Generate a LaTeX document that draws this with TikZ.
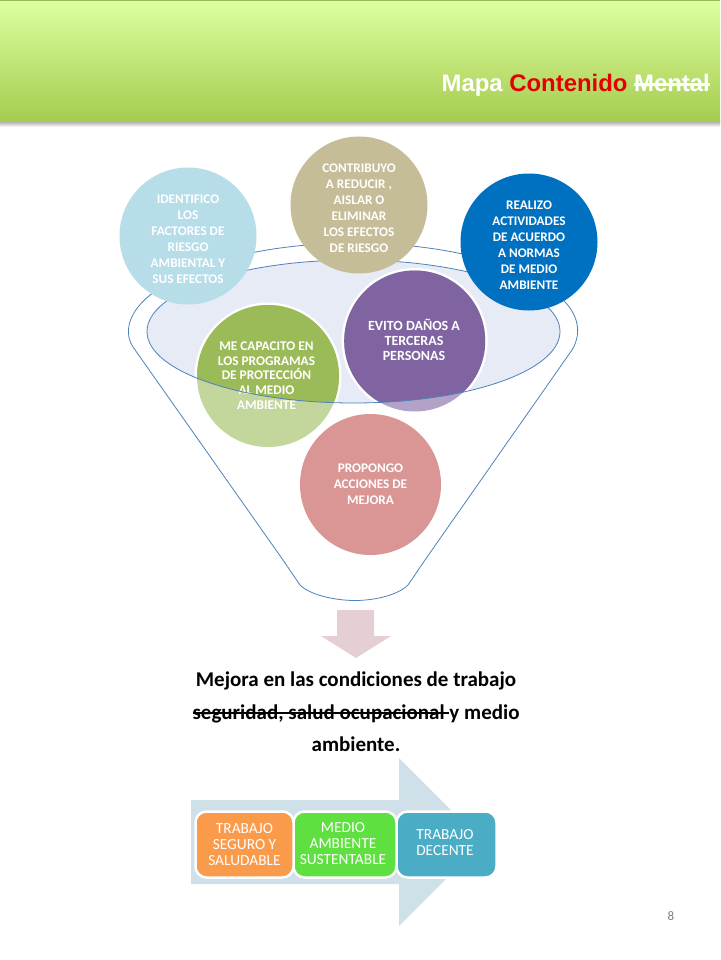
\documentclass[tikz,border=0pt]{standalone}
\usepackage{fontspec}
\setmainfont{Carlito}
\newfontfamily\titlefont{Liberation Sans}
\newcommand{\strk}[1]{\setbox0\hbox{#1}\leavevmode\rlap{\rule[0.27em]{\wd0}{0.09em}}\box0 }
\definecolor{rimline}{HTML}{4F81BD}
\definecolor{rimfill}{HTML}{E6EBF5}
\definecolor{cIdent}{HTML}{B7DDE8}
\definecolor{cTan}{HTML}{C4BD97}
\definecolor{cBlue}{HTML}{0070C0}
\definecolor{cPurple}{HTML}{8064A2}
\definecolor{cPurpleL}{HTML}{B3A2C7}
\definecolor{cGreen}{HTML}{9BBB59}
\definecolor{cGreenL}{HTML}{C3D69B}
\definecolor{cRed}{HTML}{D99694}
\definecolor{dnArrow}{HTML}{E6CFD2}
\definecolor{bigArrow}{HTML}{D0E0E8}
\definecolor{bOrange}{HTML}{FA9A4B}
\definecolor{bGreen}{HTML}{5EE040}
\definecolor{bBlue}{HTML}{4BACC6}
\definecolor{bandTop}{HTML}{DDFFA0}
\definecolor{bandMid}{HTML}{CDEE8C}
\definecolor{bandLow}{HTML}{A5CC50}
\definecolor{bandEdge}{HTML}{96BE5A}
\tikzset{
  disc/.style={circle,inner sep=0pt,minimum size=#1},
  disctext/.style={text=white,align=center,inner sep=0pt,font=\bfseries\fontsize{13.2}{16}\selectfont},
  stepbox/.style={rounded corners=11pt,draw=white,line width=2.5pt,inner sep=0pt,minimum height=66pt},
  boxtext/.style={text=white,align=center,inner sep=0pt,font=\fontsize{15.4}{16}\selectfont},
  rimstroke/.style={draw=rimline,line width=0.8pt},
}
\begin{document}
\begin{tikzpicture}[x=1pt,y=-1pt]
\useasboundingbox (0,0) rectangle (720,960);
\fill[white] (0,0) rectangle (720,960);
% header band
\shade[top color=gray!70,bottom color=white] (0,121) rectangle (720,127);
\shade[top color=bandTop,middle color=bandMid,bottom color=bandLow] (0,0) rectangle (720,122);
\draw[color=bandEdge,line width=0.8pt] (0.4,0.4) -- (719.6,0.4);
\node[anchor=base east,inner sep=0pt,text=white,font=\titlefont\bfseries\fontsize{23.9}{28}\selectfont] (title) at (710,92)
  {Mapa \textcolor{red!90!black}{Contenido} \strk{Mental}};
% funnel
\path[fill=rimfill] (353.5,331.5) ellipse [x radius=206.5pt,y radius=71.5pt];
\draw[rimstroke] (133,347) .. controls (122,330) and (130,305) .. (165,285)
   .. controls (205,258) and (280,243) .. (354,243)
   .. controls (428,243) and (505,258) .. (543,285)
   .. controls (578,305) and (584,330) .. (572,350)
   -- (425,560) -- (408,585) .. controls (398,595) and (375,600.5) .. (355,600.5)
   .. controls (335,600.5) and (310,595) .. (300,585) -- (283,560) -- cycle;
% lower discs
\node[disc=141pt,fill=cRed] (redc) at (370.5,484.5) {};
\node[disc=147pt,fill=white] (greenring) at (268,376) {};
\node[disc=142pt,fill=cGreenL] (greenc) at (268,376) {};
\begin{scope}
  \clip (353.5,331.5) ellipse [x radius=206.5pt,y radius=71.5pt];
  \node[disc=142pt,fill=cGreen] (greend) at (268,376) {};
\end{scope}
\node[disc=146pt,fill=white] (purplering) at (414.7,341) {};
\node[disc=141pt,fill=cPurpleL] (purplec) at (414.7,341) {};
\begin{scope}
  \clip (353.5,331.5) ellipse [x radius=206.5pt,y radius=71.5pt];
  \node[disc=141pt,fill=cPurple] (purpled) at (414.7,341) {};
\end{scope}
\node[disctext,font=\bfseries\fontsize{13.3}{14.7}\selectfont] (tGreen) at (266.5,375.5) {ME CAPACITO EN\\LOS PROGRAMAS\\DE PROTECCIÓN\\AL MEDIO\\AMBIENTE};
\node[disctext,font=\bfseries\fontsize{14}{15}\selectfont] (tPurple) at (414,340) {EVITO DAÑOS A\\TERCERAS\\PERSONAS};
\node[disctext] (tRed) at (370.5,484) {PROPONGO\\ACCIONES DE\\MEJORA};
\draw[rimstroke] (353.5,331.5) ellipse [x radius=206.5pt,y radius=71.5pt];
% upper discs
\node[disc=137pt,fill=cIdent] (identc) at (188,236) {};
\node[disc=137pt,fill=cTan] (tanc) at (359,205) {};
\node[disc=137pt,fill=cBlue] (bluec) at (529,242) {};
\node[disctext] (tIdent) at (188,239.5) {IDENTIFICO\\LOS\\FACTORES DE\\RIESGO\\AMBIENTAL Y\\SUS EFECTOS};
\node[disctext] (tTan) at (359,208.5) {CONTRIBUYO\\A REDUCIR ,\\AISLAR O\\ELIMINAR\\LOS EFECTOS\\DE RIESGO};
\node[disctext] (tBlue) at (529,245.5) {REALIZO\\ACTIVIDADES\\DE ACUERDO\\A NORMAS\\DE MEDIO\\AMBIENTE};
% down arrow
\fill[dnArrow] (337,610) -- (374,610) -- (374,636) -- (391,636) -- (356,658) -- (321,636) -- (337,636) -- cycle;
% result text
\node[align=center,inner sep=0pt,text=black,font=\bfseries\fontsize{21}{32.5}\selectfont] (result) at (356,712)
  {Mejora en las condiciones de trabajo\\\strk{seguridad, salud ocupacional }y medio\\ambiente.};
% big arrow
\fill[bigArrow] (191,800) -- (399,800) -- (399,758) -- (483,842) -- (399,926) -- (399,884) -- (191,884) -- cycle;
\node[stepbox,fill=bBlue,minimum width=100pt] (bx3) at (446.5,844.5) {};
\node[stepbox,fill=bGreen,minimum width=103pt] (bx2) at (345,844.5) {};
\node[stepbox,fill=bOrange,minimum width=98pt] (bx1) at (244.5,844.5) {};
\node[boxtext] (l1) at (bx1) {TRABAJO\\SEGURO Y\\SALUDABLE};
\node[boxtext] (l2) at (343,844) {MEDIO\\AMBIENTE\\SUSTENTABLE};
\node[boxtext] (l3) at (445,843) {TRABAJO\\DECENTE};
% page number
\node[inner sep=0pt,text=gray,font=\fontsize{13}{15}\selectfont] (pg) at (671,916) {8};
\end{tikzpicture}
\end{document}
